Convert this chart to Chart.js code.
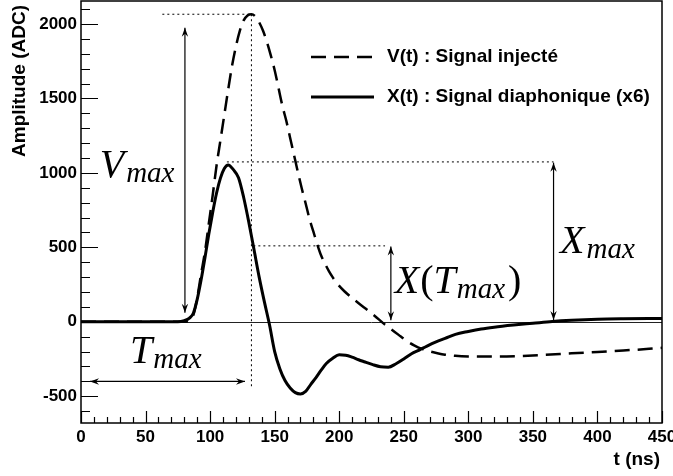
<!DOCTYPE html>
<html>
<head>
<meta charset="utf-8">
<script src="https://cdn.jsdelivr.net/npm/chart.js@4.4.0/dist/chart.umd.min.js"></script>
<style>
  body { margin: 0; background: #fff; }
</style>
</head>
<body>
<canvas id="chart" width="673" height="476"></canvas>
<script>
// V(t) : signal injecté (trait tireté)
const tV = [0, 20, 40, 60, 80, 84, 87, 90, 93, 96, 99, 102, 105, 108, 111, 114, 117, 120, 123, 126, 129, 132, 135, 138, 141, 144, 147, 150, 153, 156, 159, 162, 165, 168, 171, 174, 177, 180, 183, 186, 189, 192, 195, 198, 204, 210, 216, 222, 228, 234, 240, 246, 252, 258, 264, 270, 276, 282, 290, 300, 320, 340, 360, 380, 400, 420, 440, 450];
const vV = [0, 0, 0, 0, 0, 10, 45, 160, 320, 470, 660, 850, 1050, 1220, 1390, 1560, 1720, 1850, 1955, 2025, 2058, 2066, 2052, 2012, 1955, 1880, 1790, 1690, 1570, 1450, 1350, 1235, 1120, 1005, 895, 795, 690, 605, 520, 445, 390, 340, 298, 261, 205, 160, 118, 78, 36, -9, -48, -88, -127, -158, -182, -199, -211, -221, -229, -233, -234, -230, -222, -212, -203, -193, -182, -175];

// X(t) : signal diaphonique x6 (trait plein)
const tX = [0, 20, 40, 60, 75, 80, 84, 87, 90, 93, 96, 99, 102, 105, 108, 111, 114, 118, 122, 126, 130, 134, 138, 142, 146, 150, 154, 158, 162, 166, 170, 174, 178, 182, 186, 190, 195, 200, 205, 210, 215, 220, 226, 232, 238, 244, 250, 256, 262, 268, 275, 282, 290, 300, 310, 320, 335, 350, 365, 380, 400, 420, 450];
const vX = [0, 0, 0, 0, 0, 8, 25, 57, 150, 280, 430, 590, 735, 865, 965, 1030, 1054, 1022, 968, 835, 668, 485, 300, 135, -20, -200, -315, -395, -445, -476, -485, -468, -420, -375, -325, -280, -245, -222, -225, -238, -255, -270, -288, -302, -305, -282, -250, -215, -190, -163, -135, -112, -85, -65, -48, -36, -22, -10, 2, 10, 17, 20, 22];

const seriesLabels = ['V(t) : Signal injecté', 'X(t) : Signal diaphonique (x6)'];
const xTicks = [0, 50, 100, 150, 200, 250, 300, 350, 400, 450];
const yTicks = [-500, 0, 500, 1000, 1500, 2000];
const xTitle = 't (ns)';
const yTitle = 'Amplitude (ADC)';

// valeurs des annotations (en unités des axes)
const tMax = 132;
const vMax = 2066;
const xMax = 1074;
const xAtTmax = 510;
const tArrowV = 80.5;
const tArrowXT = 240;
const tArrowXmax = 366;

const SANS = "'Liberation Sans', Arial, sans-serif";
const SERIF = "'Liberation Serif', 'Times New Roman', serif";

function toPoints(ts, vs) {
    return ts.map((t, i) => ({ x: t, y: vs[i] }));
}

function arrowHead(ctx, x1, y1, x2, y2) {
    // pointe en (x2, y2)
    const a = Math.atan2(y2 - y1, x2 - x1);
    const L = 9, W = 3.2;
    ctx.save();
    ctx.translate(x2, y2);
    ctx.rotate(a);
    ctx.beginPath();
    ctx.moveTo(0, 0);
    ctx.lineTo(-L, -W);
    ctx.lineTo(-L + 3, 0);
    ctx.lineTo(-L, W);
    ctx.closePath();
    ctx.fill();
    ctx.restore();
}

function doubleArrow(ctx, x1, y1, x2, y2) {
    ctx.setLineDash([]);
    ctx.lineWidth = 1.2;
    ctx.beginPath();
    ctx.moveTo(x1, y1);
    ctx.lineTo(x2, y2);
    ctx.stroke();
    arrowHead(ctx, x1, y1, x2, y2);
    arrowHead(ctx, x2, y2, x1, y1);
}

function dotted(ctx, x1, y1, x2, y2) {
    ctx.setLineDash([2, 3]);
    ctx.lineWidth = 1;
    ctx.beginPath();
    ctx.moveTo(x1, y1);
    ctx.lineTo(x2, y2);
    ctx.stroke();
    ctx.setLineDash([]);
}

// texte "math" : morceaux successifs
function mathText(ctx, parts, x, y) {
    let cx = x;
    ctx.textAlign = 'left';
    ctx.textBaseline = 'alphabetic';
    parts.forEach(p => {
        ctx.font = (p.it ? 'italic ' : '') + p.size + 'px ' + SERIF;
        ctx.fillText(p.t, cx, y + (p.dy || 0));
        cx += ctx.measureText(p.t).width + (p.gap || 0);
    });
}

const annotPlugin = {
    id: 'annot',
    beforeDatasetsDraw(chart) {
        const ctx = chart.ctx;
        const xs = chart.scales.x, ys = chart.scales.y;
        ctx.save();
        ctx.strokeStyle = '#222';
        ctx.lineWidth = 1;
        ctx.beginPath();
        ctx.moveTo(xs.getPixelForValue(0), Math.round(ys.getPixelForValue(0)) + 0.5);
        ctx.lineTo(xs.getPixelForValue(450), Math.round(ys.getPixelForValue(0)) + 0.5);
        ctx.stroke();
        ctx.restore();
    },
    afterDatasetsDraw(chart) {
        const ctx = chart.ctx;
        const xs = chart.scales.x, ys = chart.scales.y;
        const a = chart.chartArea;
        const px = v => xs.getPixelForValue(v);
        const py = v => ys.getPixelForValue(v);
        ctx.save();
        ctx.strokeStyle = '#000';
        ctx.fillStyle = '#000';

        // cadre
        ctx.lineWidth = 1.5;
        ctx.strokeRect(a.left, a.top, a.right - a.left, a.bottom - a.top);

        // graduations internes
        ctx.lineWidth = 1.2;
        ctx.beginPath();
        for (let v = -600; v <= 2100; v += 100) {
            const y = Math.round(py(v)) + 0.5;
            const len = v % 500 === 0 ? 17 : 9;
            ctx.moveTo(a.left, y);
            ctx.lineTo(a.left + len, y);
        }
        for (let t = 0; t <= 450; t += 10) {
            const x = Math.round(px(t)) + 0.5;
            const len = t % 50 === 0 ? 12 : 6;
            ctx.moveTo(x, a.bottom);
            ctx.lineTo(x, a.bottom - len);
        }
        ctx.stroke();

        // pointillés
        dotted(ctx, px(63), py(vMax), px(tMax), py(vMax));
        dotted(ctx, px(tMax), py(vMax), px(tMax), py(-445));
        dotted(ctx, px(113), py(xMax), px(tArrowXmax), py(xMax));
        dotted(ctx, px(133.5), py(xAtTmax), px(235.5), py(xAtTmax));

        // flèches
        doubleArrow(ctx, px(tArrowV), py(1975), px(tArrowV), py(60));
        doubleArrow(ctx, px(7), py(-401), px(127), py(-401));
        doubleArrow(ctx, px(tArrowXT), py(xAtTmax - 5), px(tArrowXT), py(10));
        doubleArrow(ctx, px(tArrowXmax), py(xMax - 5), px(tArrowXmax), py(12));

        // étiquettes
        mathText(ctx, [{ t: 'V', size: 40, it: true, gap: 2 }, { t: 'max', size: 29, it: true, dy: 5 }], px(14.5), py(974));
        mathText(ctx, [{ t: 'T', size: 40, it: true, gap: 1 }, { t: 'max', size: 29, it: true, dy: 5 }], px(38), py(-275));
        mathText(ctx, [{ t: 'X', size: 40, it: true, gap: 1 }, { t: '(', size: 40 }, { t: 'T', size: 40, it: true, gap: 1 }, { t: 'max', size: 29, it: true, dy: 5, gap: 3 }, { t: ')', size: 40 }], px(243), py(195));
        mathText(ctx, [{ t: 'X', size: 40, it: true, gap: 2 }, { t: 'max', size: 29, it: true, dy: 5 }], px(371), py(463));

        // légende
        const ds = chart.data.datasets;
        const ly = [57, 97];
        ds.forEach((d, i) => {
            ctx.lineWidth = d.borderWidth;
            ctx.setLineDash(d.borderDash || []);
            ctx.beginPath();
            ctx.moveTo(311, ly[i]);
            ctx.lineTo(374, ly[i]);
            ctx.stroke();
            ctx.setLineDash([]);
            ctx.font = 'bold 19px ' + SANS;
            ctx.textAlign = 'left';
            ctx.textBaseline = 'middle';
            ctx.fillText(d.label, 387, ly[i]);
        });

        // titres des axes
        ctx.font = 'bold 19px ' + SANS;
        ctx.textAlign = 'right';
        ctx.textBaseline = 'middle';
        ctx.fillText(xTitle, 660, 460);
        ctx.save();
        ctx.translate(20, 5);
        ctx.rotate(-Math.PI / 2);
        ctx.fillText(yTitle, 0, 0);
        ctx.restore();

        ctx.restore();
    }
};

const ctx = document.getElementById('chart').getContext('2d');
new Chart(ctx, {
    type: 'scatter',
    data: {
        datasets: [
            {
                label: seriesLabels[0],
                data: toPoints(tV, vV),
                showLine: true,
                borderColor: '#000',
                borderWidth: 2.5,
                borderDash: [15, 8],
                pointRadius: 0,
                cubicInterpolationMode: 'monotone'
            },
            {
                label: seriesLabels[1],
                data: toPoints(tX, vX),
                showLine: true,
                borderColor: '#000',
                borderWidth: 3,
                pointRadius: 0,
                cubicInterpolationMode: 'monotone'
            }
        ]
    },
    options: {
        responsive: false,
        animation: false,
        devicePixelRatio: 1,
        layout: { padding: { top: 1, right: 11, left: 0, bottom: 0 } },
        plugins: {
            legend: { display: false },
            tooltip: { enabled: false }
        },
        scales: {
            x: {
                type: 'linear',
                min: 0,
                max: 450,
                grid: { display: false, drawTicks: false },
                border: { display: false },
                ticks: {
                    color: '#000',
                    font: { family: SANS, size: 17, weight: 'bold' },
                    padding: 4,
                    maxRotation: 0,
                    autoSkip: false,
                    callback: v => String(v)
                },
                afterBuildTicks: s => { s.ticks = xTicks.map(v => ({ value: v })); },
                afterFit: s => { s.height = 53; s.paddingLeft = 0; s.paddingRight = 0; }
            },
            y: {
                type: 'linear',
                min: -680,
                max: 2155,
                grid: { display: false, drawTicks: false },
                border: { display: false },
                ticks: {
                    color: '#000',
                    font: { family: SANS, size: 17, weight: 'bold' },
                    padding: 4,
                    autoSkip: false,
                    callback: v => String(v)
                },
                afterBuildTicks: s => { s.ticks = yTicks.map(v => ({ value: v })); },
                afterFit: s => { s.width = 81; s.paddingTop = 0; s.paddingBottom = 0; }
            }
        }
    },
    plugins: [annotPlugin]
});
</script>
</body>
</html>
